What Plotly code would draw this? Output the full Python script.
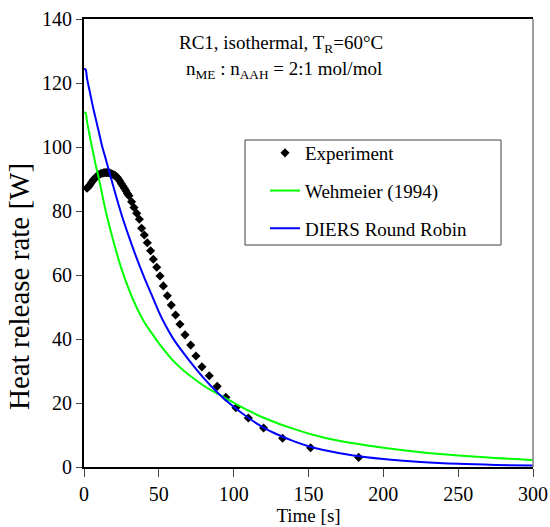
import plotly.graph_objects as go

# Experiment data (time [s], heat release rate [W])
exp_t = [2, 3, 4, 5, 6, 7, 8, 9, 10, 11, 12, 13, 14, 15, 16, 17, 18, 19, 20,
         21, 22, 23, 24, 25, 26, 27, 28, 29, 30,
         31.8, 33.4, 35.2, 37, 38.5, 40.3, 42.3, 44.5, 46.3, 48.6, 50.8, 53, 55.7,
         58.3, 61.2, 64.1, 67.5, 71.3, 74.8, 78.8, 83.7, 89, 94.8, 101.5, 109.8,
         120, 132.7, 151.4, 183.5]
exp_q = [87.1, 87.6, 88.2, 88.9, 89.6, 90.1, 90.6, 91.0, 91.4, 91.6, 91.8, 91.9,
         92.0, 92.0, 92.0, 91.9, 91.7, 91.5, 91.3, 91.0, 90.6, 90.0, 89.3, 88.5,
         87.8, 87.1, 86.3, 85.5, 84.8,
         82.9, 81.1, 79.3, 77.4, 74.6, 72.5, 70.1, 67.6, 64.9, 62.4, 59.7, 56.6, 53.5,
         50.6, 47.5, 44.6, 41.3, 38.1, 34.7, 31.3, 28.5, 25.2, 21.8, 18.5, 15.3,
         12.2, 9.0, 6.0, 3.0]

# Wehmeier (1994) model
weh_t = [0, 1, 2, 3, 4, 6, 8, 10, 12, 15, 20, 25, 30, 35, 40, 45, 50, 60, 70, 80,
         90, 100, 110, 120, 140, 160, 180, 200, 225, 250, 275, 300]
weh_q = [110.7, 110.7, 108, 105.5, 103, 98.5, 94, 90, 85.5, 79, 70, 62, 55.5, 50,
         45.5, 42, 38.7, 33, 28.8, 25.4, 22.7, 20.1, 17.6, 15.4, 11.9, 9.2, 7.4,
         6.0, 4.6, 3.6, 2.8, 2.2]

# DIERS Round Robin model
diers_t = [0, 1, 2, 4, 6, 8, 10, 12, 15, 20, 25, 30, 35, 40, 45, 50, 55, 60, 70,
           80, 90, 100, 110, 120, 130, 140, 150, 160, 180, 200, 225, 250, 275, 300]
diers_q = [124.3, 124.3, 121.5, 117, 112.5, 108.5, 104.5, 100.5, 95.5, 87, 79,
           72, 65.5, 59.5, 54, 48.5, 43.8, 39.8, 33.5, 27.8, 22.9, 18.8, 15.3,
           12.3, 10.0, 8.1, 6.5, 5.3, 3.6, 2.5, 1.6, 1.0, 0.65, 0.45]

x_ticks = [0, 50, 100, 150, 200, 250, 300]
y_ticks = [0, 20, 40, 60, 80, 100, 120, 140]

FONT = "Liberation Serif"

def f(size=19):
    return dict(family=FONT, size=size, color="black")

fig = go.Figure()
fig.add_trace(go.Scatter(x=exp_t, y=exp_q, mode="markers", name="Experiment",
                         legendgroup="a",
                         marker=dict(symbol="diamond", size=7, color="black",
                                     line=dict(width=0))))
fig.add_trace(go.Scatter(x=weh_t, y=weh_q, mode="lines", name="Wehmeier (1994)",
                         legendgroup="b", line=dict(color="#00FF00", width=2),
                         line_shape="spline"))
fig.add_trace(go.Scatter(x=diers_t, y=diers_q, mode="lines", name="DIERS Round Robin",
                         legendgroup="c", line=dict(color="#0000FF", width=2),
                         line_shape="spline"))

W, H = 550, 527
L, R, T, B = 84, 533, 19, 467
pw, ph = R - L, B - T

def px(x):
    return (x - L) / pw

def py(y):
    return (B - y) / ph

fig.update_layout(
    width=W, height=H,
    margin=dict(l=L, r=W - R, t=T, b=H - B, autoexpand=False),
    paper_bgcolor="white", plot_bgcolor="white",
    font=f(),
    showlegend=True,
    legend=dict(x=px(265), y=py(134), xanchor="left", yanchor="top",
                bgcolor="rgba(0,0,0,0)", borderwidth=0,
                traceorder="grouped", tracegroupgap=10,
                font=f()),
    xaxis=dict(range=[0, 300], tickvals=x_ticks, showgrid=False, zeroline=False,
               showline=True, linecolor="black", linewidth=1.5, mirror=True,
               ticks="outside", ticklen=8, tickcolor="#444", tickwidth=1,
               automargin=False,
               title=dict(text="Time [s]", standoff=0, font=f()),
               tickfont=f(20)),
    yaxis=dict(range=[0, 140], tickvals=y_ticks, showgrid=False, zeroline=False,
               showline=True, linecolor="black", linewidth=2,
               ticks="outside", ticklen=6, tickcolor="#444", tickwidth=1,
               automargin=False, tickfont=f(20)),
    shapes=[
        dict(type="line", xref="paper", yref="paper", x0=1, x1=1, y0=0, y1=1,
             line=dict(color="#808080", width=1.5)),
        dict(type="rect", xref="paper", yref="paper", x0=px(245), x1=px(501),
             y0=py(245), y1=py(140), line=dict(color="#404040", width=1),
             fillcolor="rgba(0,0,0,0)"),
    ],
    annotations=[
        dict(text="RC1, isothermal, T<sub>R</sub>=60°C", xref="paper", yref="paper",
             x=px(281), y=py(44), xanchor="center", yanchor="middle",
             showarrow=False, font=f()),
        dict(text="n<sub>ME</sub> : n<sub>AAH</sub> = 2:1 mol/mol", xref="paper",
             yref="paper", x=px(284), y=py(70), xanchor="center", yanchor="middle",
             showarrow=False, font=f()),
        dict(text="Heat release rate [W]", xref="paper", yref="paper",
             x=px(19), y=py(287), xanchor="center", yanchor="middle",
             textangle=-90, showarrow=False, font=f(29)),
    ],
)

fig.write_html("out.html")
